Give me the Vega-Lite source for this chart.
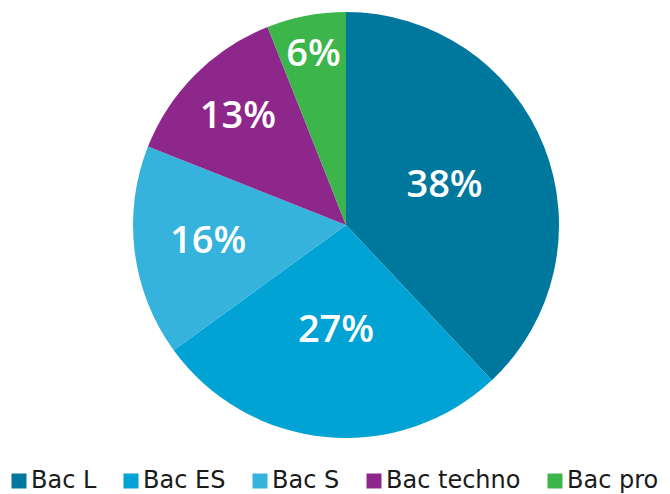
{
  "$schema": "https://vega.github.io/schema/vega-lite/v6.json",
  "width": 648,
  "height": 450,
  "padding": {"left": 22, "top": 0, "right": 0, "bottom": 44},
  "autosize": {"type": "none"},
  "background": "white",
  "config": {"view": {"stroke": null}, "font": "DejaVu Sans"},
  "data": {
    "values": [
      {"bac": "Bac L", "share": 38, "rank": 1, "label": "38%"},
      {"bac": "Bac ES", "share": 27, "rank": 2, "label": "27%"},
      {"bac": "Bac S", "share": 16, "rank": 3, "label": "16%"},
      {"bac": "Bac techno", "share": 13, "rank": 4, "label": "13%"},
      {"bac": "Bac pro", "share": 6, "rank": 5, "label": "6%"}
    ]
  },
  "encoding": {
    "theta": {"field": "share", "type": "quantitative", "stack": true},
    "order": {"field": "rank", "type": "quantitative"},
    "color": {
      "field": "bac",
      "type": "nominal",
      "sort": ["Bac L", "Bac ES", "Bac S", "Bac techno", "Bac pro"],
      "scale": {
        "domain": ["Bac L", "Bac ES", "Bac S", "Bac techno", "Bac pro"],
        "range": ["#00789e", "#00a3d3", "#35b3dc", "#8e278b", "#3cb54a"]
      },
      "legend": {
        "title": null,
        "orient": "none",
        "legendX": -15,
        "legendY": 469,
        "padding": 0,
        "direction": "horizontal",
        "symbolType": "square",
        "symbolSize": 225,
        "symbolStrokeWidth": 0,
        "labelFontSize": 24,
        "labelFont": "DejaVu Sans",
        "labelColor": "#1a1a1a",
        "columnPadding": 22,
        "labelOffset": 0,
        "labelLimit": 300
      }
    }
  },
  "layer": [
    {"mark": {"type": "arc", "outerRadius": 213}},
    {
      "mark": {"type": "text", "radius": 106, "fontSize": 38, "fontWeight": 600, "font": "Open Sans"},
      "encoding": {
        "text": {"condition": {"test": "datum.bac === 'Bac L' || datum.bac === 'Bac ES'", "field": "label", "type": "nominal"}, "value": ""},
        "color": {"value": "white"}
      }
    },
    {
      "mark": {"type": "text", "radius": 139, "fontSize": 38, "fontWeight": 600, "font": "Open Sans"},
      "encoding": {
        "text": {"condition": {"test": "datum.bac === 'Bac S'", "field": "label", "type": "nominal"}, "value": ""},
        "color": {"value": "white"}
      }
    },
    {
      "mark": {"type": "text", "radius": 153, "fontSize": 38, "fontWeight": 600, "font": "Open Sans"},
      "encoding": {
        "text": {"condition": {"test": "datum.bac === 'Bac techno'", "field": "label", "type": "nominal"}, "value": ""},
        "color": {"value": "white"}
      }
    },
    {
      "mark": {"type": "text", "radius": 173, "fontSize": 38, "fontWeight": 600, "font": "Open Sans"},
      "encoding": {
        "text": {"condition": {"test": "datum.bac === 'Bac pro'", "field": "label", "type": "nominal"}, "value": ""},
        "color": {"value": "white"}
      }
    }
  ]
}
